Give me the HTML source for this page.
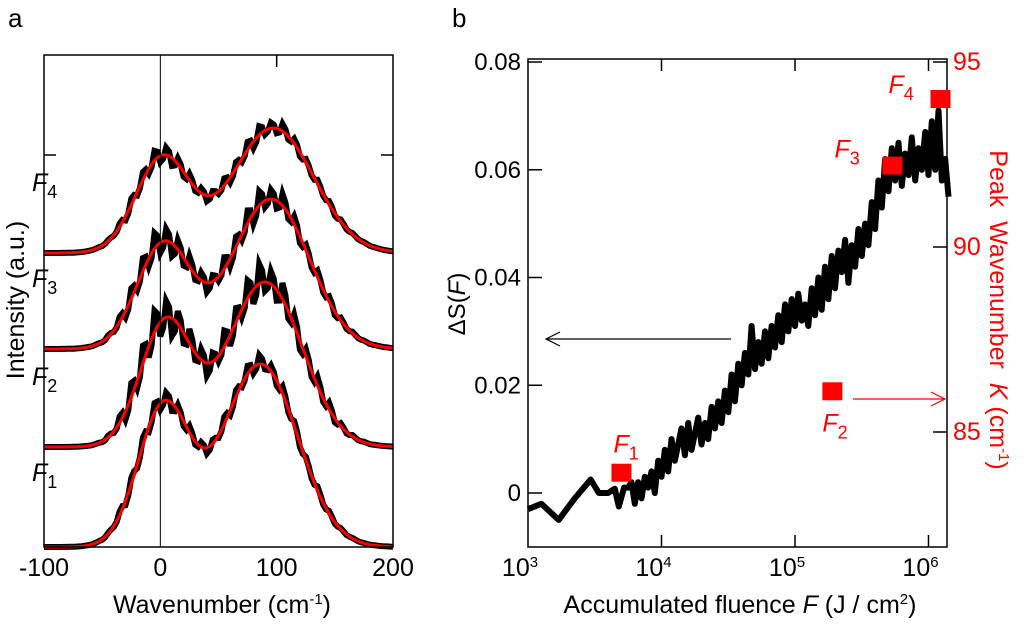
<!DOCTYPE html>
<html><head><meta charset="utf-8"><style>
body{margin:0;background:#fff;}
svg{display:block;font-family:"Liberation Sans",Arial,sans-serif;}
</style></head><body>
<svg id="fig" width="1024" height="627" viewBox="0 0 1024 627">
<text x="8" y="27" font-size="26">a</text>
<text x="452" y="27" font-size="26">b</text>
<g id="pa"></g>
<g id="pb"></g>
<text transform="translate(465,304) rotate(-90)" font-size="24" text-anchor="middle">ΔS(<tspan font-style="italic">F</tspan>)</text>
<text transform="translate(990,310) rotate(90)" font-size="25" text-anchor="middle" fill="#f00" xml:space="preserve">Peak  Wavenumber  <tspan font-style="italic">K</tspan> (cm<tspan dy="-9" font-size="15">-1</tspan><tspan dy="9">)</tspan></text>
</svg>
<script>
// ---- Panel a data ----
const traceNames = ["F1","F2","F3","F4"];
const offsets = [0, 100, 198, 294];
const amp1 = [140, 125, 105, 95];
const cen1 = [3, 5, 3, 2];
const sig1 = [22, 22, 23, 23];
const amp2 = [183, 165, 150, 125];
const cen2 = [86, 90, 95, 97];
const sig2 = [32, 32, 33, 35];
const noiseScale = [0.8, 1.8, 1.3, 0.8];
const noise = [0,1,-1,2,0,-2,1,3,-1,2,-3,4,-2,6,-5,8,-4,10,-6,12,-8,9,-10,7,-6,8,-4,6,-7,5,-3,9,-6,8,-4,10,-8,11,-5,7,-6,9,-4,6,-5,4,-3,5,-2,4,-3,3,-2,3,-1,2,-2,1,0,1,0];
const xTicksA = [-100, 0, 100, 200];

// ---- Panel b data ----
const earlyLogF = [3.0, 3.1, 3.23, 3.35, 3.47, 3.53, 3.6, 3.65, 3.68, 3.72];
const earlyS = [-0.003, -0.002, -0.005, -0.001, 0.0025, 0.0, 0.0, 0.0008, -0.0025, 0.001];
const gridStart = 3.75, gridStep = 0.025;
const gridS = [0.001,0.002,-0.002,0.002,-0.001,0.003,0.001,0.004,0.000,0.006,0.003,
0.008,0.004,0.010,0.006,0.009,0.012,0.007,0.013,0.008,0.011,
0.014,0.009,0.013,0.010,0.016,0.012,0.017,0.013,0.019,0.015,
0.022,0.017,0.024,0.020,0.026,0.022,0.031,0.023,0.028,0.024,
0.030,0.025,0.031,0.027,0.033,0.028,0.035,0.030,0.036,0.031,
0.037,0.032,0.035,0.031,0.038,0.033,0.040,0.034,0.042,0.036,
0.044,0.038,0.045,0.041,0.047,0.039,0.046,0.042,0.049,0.044,
0.050,0.046,0.054,0.049,0.058,0.053,0.062,0.056,0.064,0.058,
0.065,0.057,0.063,0.059,0.066,0.058,0.064,0.060,0.067,0.059,
0.069,0.060,0.071,0.058,0.062,0.055];
const markerLabels = ["F1","F2","F3","F4"];
const markerLogF = [3.70, 5.28, 5.73, 6.09];
const markerK = [83.9, 86.1, 92.2, 94.0];
const sTicks = [0, 0.02, 0.04, 0.06, 0.08];
const sTickLabels = ["0","0.02","0.04","0.06","0.08"];
const kTicks = [85, 90, 95];
const xDecades = [3, 4, 5, 6];

const NS = "http://www.w3.org/2000/svg";
function mk(parent, tag, attrs, text){
  const e = document.createElementNS(NS, tag);
  for (const k in attrs) e.setAttribute(k, attrs[k]);
  if (text !== undefined) e.textContent = text;
  parent.appendChild(e); return e;
}

// ---------- Panel A ----------
const pa = document.getElementById("pa");
const aL=44, aR=393, aT=55, aB=547;
const xa = v => aL + (v + 100) / 300 * (aR - aL);
const ya = v => aB - v;
for (let t = 0; t < 4; t++) {
  const pts = [], fit = [];
  for (let i = 0; i <= 120; i++) {
    const x = -100 + i * 2.5;
    const f = amp1[t]*Math.exp(-((x-cen1[t])**2)/(2*sig1[t]**2)) + amp2[t]*Math.exp(-((x-cen2[t])**2)/(2*sig2[t]**2));
    fit.push([xa(x), ya(offsets[t] + f)]);
    const n = noise[Math.floor(i/2)] * noiseScale[t] * (i%2 ? 0.6 : 1) * Math.min(1, f/40);
    pts.push([xa(x), ya(offsets[t] + f + n)]);
  }
  const d = mk(pa, "path", {d:"M"+pts.map(p=>p[0].toFixed(1)+","+p[1].toFixed(1)).join("L"), fill:"none", stroke:"#000", "stroke-width":6});
  
  
  const r = mk(pa, "path", {d:"M"+fit.map(p=>p[0].toFixed(1)+","+p[1].toFixed(1)).join("L"), fill:"none", stroke:"#f00", "stroke-width":3});
  
  
  const lab = mk(pa, "text", {x:32, y:ya(offsets[t]) - (t==0?66:62), "font-size":25, "font-style":"italic"}, "F");
  
  
  mk(lab, "tspan", {dy:7, "font-size":18, "font-style":"normal"}, String(t+1));
}
mk(pa, "line", {x1:xa(0), x2:xa(0), y1:aT, y2:aB, stroke:"#000", "stroke-width":1});
const fa = mk(pa, "rect", {x:aL, y:aT, width:aR-aL, height:aB-aT, fill:"none", stroke:"#000", "stroke-width":1.5});


mk(pa, "line", {x1:xa(100), x2:xa(100), y1:aT, y2:aT+12, stroke:"#000", "stroke-width":1.5});
mk(pa, "line", {x1:aL, x2:aL+12, y1:155, y2:155, stroke:"#000", "stroke-width":1.5});
mk(pa, "line", {x1:aR-12, x2:aR, y1:155, y2:155, stroke:"#000", "stroke-width":1.5});
xTicksA.forEach(v => {
  const t = mk(pa, "text", {x:xa(v), y:576, "font-size":25, "text-anchor":"middle"}, String(v));
  
  
});
const xta = mk(pa, "text", {x:222, y:613, "font-size":25, "text-anchor":"middle"}, "Wavenumber (cm");


mk(xta, "tspan", {dy:-9, "font-size":15}, "-1");
mk(xta, "tspan", {dy:9}, ")");
const yta = mk(pa, "text", {x:0, y:0, "font-size":25, "text-anchor":"middle", transform:"translate(24,300) rotate(-90)"}, "Intensity (a.u.)");



// ---------- Panel B ----------
const pb = document.getElementById("pb");
const bL=528, bR=947, bT=59, bB=547;
const decPx = 133.5;
const xb = lf => bL + (lf - 3) * decPx;
const yb = s => 493 - s / 0.02 * 107.75;
const yk = k => 247 - (k - 90) / 5 * 185;
const allX = earlyLogF.concat(gridS.map((_, i) => gridStart + i * gridStep));
const allS = earlyS.concat(gridS);
const cd = "M" + allX.map((lf, i) => xb(lf).toFixed(1) + "," + yb(allS[i]).toFixed(1)).join("L");
const cp = mk(pb, "path", {d:cd, fill:"none", stroke:"#000", "stroke-width":6, "stroke-linejoin":"round"});


const fb = mk(pb, "rect", {x:bL, y:bT, width:bR-bL, height:bB-bT, fill:"none", stroke:"#000", "stroke-width":1.5});


xDecades.forEach(d => {
  const x = xb(d);
  if (d > 3) {
    mk(pb, "line", {x1:x, x2:x, y1:bB-12, y2:bB, stroke:"#000", "stroke-width":1.5});
    mk(pb, "line", {x1:x, x2:x, y1:bT, y2:bT+12, stroke:"#000", "stroke-width":1.5});
  }
  const t = mk(pb, "text", {x:x - 8, y:576, "font-size":25, "text-anchor":"middle"}, "10");
  
  
  mk(t, "tspan", {dy:-9, "font-size":15}, String(d));
});
sTicks.forEach((s, i) => {
  const y = yb(s);
  mk(pb, "line", {x1:bL, x2:bL+14, y1:y, y2:y, stroke:"#000", "stroke-width":1.5});
  const t = mk(pb, "text", {x:bL-7, y:y+8, "font-size":24, "text-anchor":"end"}, sTickLabels[i]);
  
  
});
kTicks.forEach(k => {
  const y = yk(k);
  mk(pb, "line", {x1:bR-14, x2:bR, y1:y, y2:y, stroke:"#000", "stroke-width":1.5});
  const t = mk(pb, "text", {x:bR+6, y:y+8, "font-size":25, fill:"#f00"}, String(k));
  
  
});
const labOff = [[-8,-20],[-10,40],[-58,-8],[-52,-6]];
markerLogF.forEach((lf, i) => {
  const x = xb(lf), y = yk(markerK[i]);
  const m = mk(pb, "rect", {x:x-10, y:y-9, width:20, height:18, fill:"#f00"});
  
  
  const t = mk(pb, "text", {x:x+labOff[i][0], y:y+labOff[i][1], "font-size":25, "font-style":"italic", fill:"#f00"}, "F");
  
  
  mk(t, "tspan", {dy:7, "font-size":18, "font-style":"normal"}, String(i+1));
});
mk(pb, "path", {d:"M731,339H546M560,332L546,339L560,346", fill:"none", stroke:"#000", "stroke-width":1.2});
mk(pb, "path", {d:"M853,399H945M931,392L945,399L931,406", fill:"none", stroke:"#f00", "stroke-width":1.2});
const xtb = mk(pb, "text", {x:740, y:613, "font-size":25, "text-anchor":"middle"}, "Accumulated fluence ");


mk(xtb, "tspan", {"font-style":"italic"}, "F");
mk(xtb, "tspan", {}, " (J / cm");
mk(xtb, "tspan", {dy:-9, "font-size":15}, "2");
mk(xtb, "tspan", {dy:9}, ")");
</script>
</body></html>
